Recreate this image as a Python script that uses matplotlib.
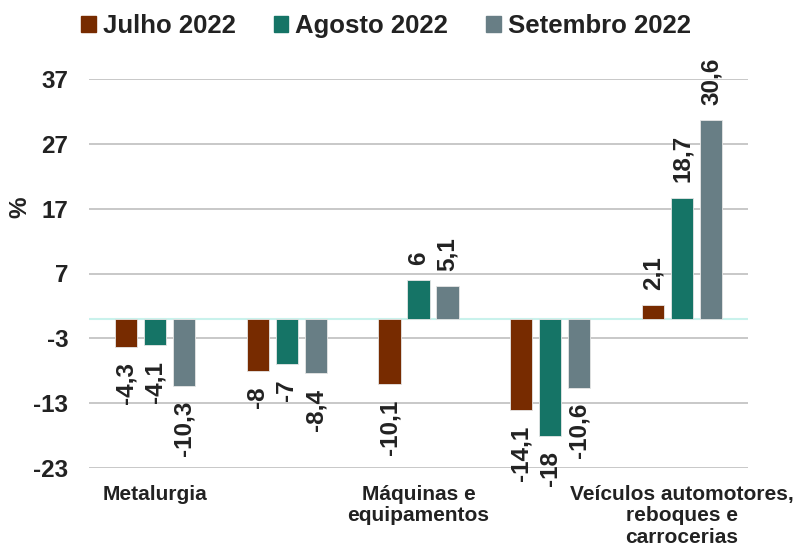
import matplotlib as mpl
import matplotlib.pyplot as plt
import numpy as np
from matplotlib.patches import Patch

mpl.rc('font', family='Liberation Sans', weight='bold')
mpl.rc('text', color='#222222')
mpl.rc('ytick', color='#222222')
mpl.rc('xtick', color='#222222')

# dados
categorias = ['Metalurgia', '', 'Máquinas e\nequipamentos', '',
              'Veículos automotores,\nreboques e\ncarrocerias']
series = ['Julho 2022', 'Agosto 2022', 'Setembro 2022']
julho = [-4.3, -8, -10.1, -14.1, 2.1]
agosto = [-4.1, -7, 6, -18, 18.7]
setembro = [-10.3, -8.4, 5.1, -10.6, 30.6]
yticks = [-23, -13, -3, 7, 17, 27, 37]

cores = ['#772B00', '#157466', '#687E85']

fig = plt.figure(figsize=(8.11, 5.51), dpi=100)
ax = fig.add_axes([89 / 811, 1 - 468 / 551, 659 / 811, 389 / 551])

x = np.arange(len(categorias))
largura = 0.167
passo = 0.22
for i, (vals, cor) in enumerate(zip([julho, agosto, setembro], cores)):
    pos = x + (i - 1) * passo
    ax.bar(pos, vals, width=largura, color=cor, edgecolor='#e6e6e6',
           linewidth=0.6, zorder=3)
    for p, v in zip(pos, vals):
        txt = ('%g' % v).replace('.', ',')
        if v < 0:
            ax.annotate(txt, (p, v), xytext=(0, -11), textcoords='offset points',
                        rotation=90, ha='center', va='top', fontsize=17.5)
        else:
            ax.annotate(txt, (p, v), xytext=(0, 11), textcoords='offset points',
                        rotation=90, ha='center', va='bottom', fontsize=17.5)

ax.set_xlim(-0.5, len(categorias) - 0.5)
ax.set_ylim(-23, 37)
ax.set_yticks(yticks)
ax.set_yticklabels([str(t) for t in yticks], fontsize=17.5)
ax.grid(axis='y', color='#bfbfbf', linewidth=1.2, zorder=0)
ax.axhline(0, color='#c9f2ec', linewidth=1.5, zorder=2)
ax.tick_params(axis='y', length=0, pad=15)
ax.tick_params(axis='x', length=0, pad=12)
ax.set_xticks(x)
ax.set_xticklabels(categorias, fontsize=15, va='top', linespacing=1.18)
for s in ax.spines.values():
    s.set_visible(False)

fig.text(20 / 811, 1 - 207 / 551, '%', rotation=90, ha='center', va='center',
         fontsize=17.5)

handles = [Patch(color=c) for c in cores]
fig.legend(handles, series, loc='center', bbox_to_anchor=(386 / 811, 0.953),
           ncol=3, frameon=False, fontsize=18.5, handlelength=0.55,
           handleheight=0.55, handletextpad=0.27, columnspacing=1.5)

fig.savefig('out.png', dpi=100)
